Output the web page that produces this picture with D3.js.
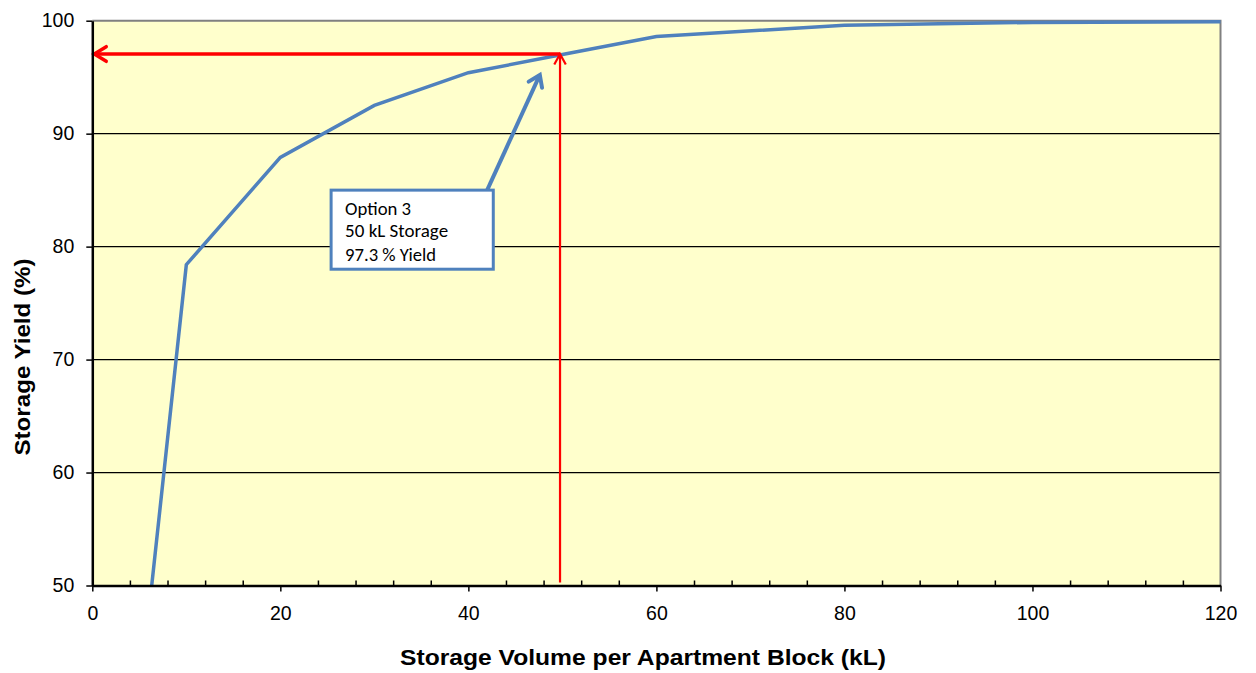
<!DOCTYPE html>
<html>
<head>
<meta charset="utf-8">
<script src="https://cdn.jsdelivr.net/npm/d3@7"></script>
<style>
  body { margin: 0; background: #fff; }
  text { font-family: Arial, "Liberation Sans", sans-serif; }
</style>
</head>
<body>
<svg id="chart" width="1256" height="673"></svg>
<script>

// data
let volumes = [5, 10, 20, 30, 40, 50, 60, 80, 100, 120];
let yields  = [39.8, 78.4, 87.9, 92.5, 95.4, 97.0, 98.6, 99.6, 99.85, 99.9];

let xTicks = [0, 20, 40, 60, 80, 100, 120];
let xMinor = d3.range(4, 120, 4).filter(v => v % 20 != 0);
let yTicks = [50, 60, 70, 80, 90, 100];
let yGrid  = [60, 70, 80, 90];

// the highlighted option
let optionVolume = 49.75;
let optionYield  = 97.05;
let noteLines  = ["Option 3", "50 kL Storage", "97.3 % Yield"];
let noteWidths = [66, 103, 91];
let noteBox   = [25.4, 42.65, 85.0, 78.0];   // x0, x1, yTop, yBottom in data units
let noteArrow = [[42.0, 85.0], [47.6, 95.2]];

let svg = d3.select("#chart");
let position = { left: 92.3, top: 20.7, right: 1220.5, bottom: 585.5 };

let x = d3.scaleLinear().domain([0, 120]).range([position.left, position.right]);
let y = d3.scaleLinear().domain([50, 100]).range([position.bottom, position.top]);

// plot background
svg.append("rect")
    .attr("x", position.left).attr("y", position.top)
    .attr("width", position.right - position.left)
    .attr("height", position.bottom - position.top)
    .style("fill", "#FFFFCC");

// grid lines
svg.append("g").selectAll("line")
    .data(yGrid).enter().append("line")
      .attr("x1", position.left).attr("x2", position.right)
      .attr("y1", d => y(d)).attr("y2", d => y(d))
      .style("stroke", "black").style("stroke-width", 1.2);

// top and right frame
svg.append("path")
    .attr("d", `M${position.left},${position.top}H${position.right}V${position.bottom}`)
    .style("fill", "none").style("stroke", "#808080").style("stroke-width", 2);

let defs = svg.append("defs");
defs.append("clipPath").attr("id", "plotclip")
    .append("rect")
      .attr("x", position.left).attr("y", position.top - 5)
      .attr("width", position.right - position.left + 2)
      .attr("height", position.bottom - position.top + 5);

// open chevron arrow head at the end point (x2,y2)
function chevron(x1, y1, x2, y2, len, spread) {
    let a = Math.atan2(y2 - y1, x2 - x1);
    let p1 = [x2 - len * Math.cos(a - spread), y2 - len * Math.sin(a - spread)];
    let p2 = [x2 - len * Math.cos(a + spread), y2 - len * Math.sin(a + spread)];
    return `M${p1[0]},${p1[1]}L${x2},${y2}L${p2[0]},${p2[1]}`;
}

// yield curve
let line = d3.line().x((d, i) => x(volumes[i])).y(d => y(d));
svg.append("g").attr("clip-path", "url(#plotclip)")
    .append("path")
      .datum(yields)
      .attr("d", line)
      .style("fill", "none")
      .style("stroke", "#4F81BD")
      .style("stroke-width", 3.5)
      .style("stroke-linejoin", "miter");

// red guide lines
let red = svg.append("g");
red.append("line")
    .attr("x1", x(optionVolume)).attr("x2", x(0) + 2)
    .attr("y1", y(optionYield)).attr("y2", y(optionYield))
    .style("stroke", "#FF0000").style("stroke-width", 3.5);
red.append("path")
    .attr("d", chevron(x(optionVolume), y(optionYield), x(0) + 2, y(optionYield), 14, 0.55))
    .style("fill", "none").style("stroke", "#FF0000").style("stroke-width", 3.5)
    .style("stroke-linecap", "round");
red.append("line")
    .attr("x1", x(optionVolume)).attr("x2", x(optionVolume))
    .attr("y1", y(50) - 3).attr("y2", y(optionYield))
    .style("stroke", "#FF0000").style("stroke-width", 2.2);
red.append("path")
    .attr("d", chevron(x(optionVolume), y(50), x(optionVolume), y(optionYield), 12, 0.5))
    .style("fill", "none").style("stroke", "#FF0000").style("stroke-width", 2.2);

// axes
let xAxis = svg.append("g").attr("transform", `translate(0,${position.bottom})`)
    .call(d3.axisBottom(x).tickValues(xTicks).tickSize(6).tickSizeOuter(0).tickPadding(15));
let xMinorG = svg.append("g").attr("transform", `translate(0,${position.bottom})`)
    .call(d3.axisTop(x).tickValues(xMinor).tickSize(5).tickFormat(""));
let yAxis = svg.append("g").attr("transform", `translate(${position.left},0)`)
    .call(d3.axisLeft(y).tickValues(yTicks).tickSize(6).tickSizeOuter(0).tickPadding(12));

[xAxis, xMinorG, yAxis].forEach(g => {
    g.selectAll("path.domain").style("stroke", "black").style("stroke-width", 2.5);
    g.selectAll(".tick line").style("stroke", "black").style("stroke-width", 1.5);
    g.selectAll(".tick text")
        .style("font-family", "Arial, 'Liberation Sans', sans-serif")
        .style("font-size", "19.5px").style("fill", "#000");
});
xMinorG.select("path.domain").remove();

// annotation arrow
let ax1 = x(noteArrow[0][0]), ay1 = y(noteArrow[0][1]);
let ax2 = x(noteArrow[1][0]), ay2 = y(noteArrow[1][1]);
svg.append("line")
    .attr("x1", ax1).attr("y1", ay1).attr("x2", ax2).attr("y2", ay2)
    .style("stroke", "#4F81BD").style("stroke-width", 4);
svg.append("path")
    .attr("d", chevron(ax1, ay1, ax2, ay2, 13, 0.6))
    .style("fill", "none").style("stroke", "#4F81BD").style("stroke-width", 4)
    .style("stroke-linecap", "round");

// annotation box
svg.append("rect")
    .attr("x", x(noteBox[0])).attr("y", y(noteBox[2]))
    .attr("width", x(noteBox[1]) - x(noteBox[0]))
    .attr("height", y(noteBox[3]) - y(noteBox[2]))
    .style("fill", "white").style("stroke", "#4F81BD").style("stroke-width", 3);

svg.append("g").selectAll("text")
    .data(noteLines).enter().append("text")
      .attr("x", x(noteBox[0]) + 14)
      .attr("y", (d, i) => [215, 237, 261][i])
      .attr("textLength", (d, i) => noteWidths[i])
      .attr("lengthAdjust", "spacingAndGlyphs")
      .style("font-family", "Carlito, 'Open Sans', sans-serif")
      .style("font-size", "18px")
      .style("fill", "#000")
      .text(d => d);

// axis titles
svg.append("text")
    .attr("x", 643)
    .attr("y", 665)
    .attr("text-anchor", "middle")
    .attr("textLength", 486)
    .attr("lengthAdjust", "spacingAndGlyphs")
    .style("font-size", "21.5px").style("font-weight", "bold")
    .text("Storage Volume per Apartment Block (kL)");

svg.append("text")
    .attr("transform", "translate(30,357) rotate(-90)")
    .attr("text-anchor", "middle")
    .attr("textLength", 197)
    .attr("lengthAdjust", "spacingAndGlyphs")
    .style("font-size", "21.5px").style("font-weight", "bold")
    .text("Storage Yield (%)");

</script>
</body>
</html>
